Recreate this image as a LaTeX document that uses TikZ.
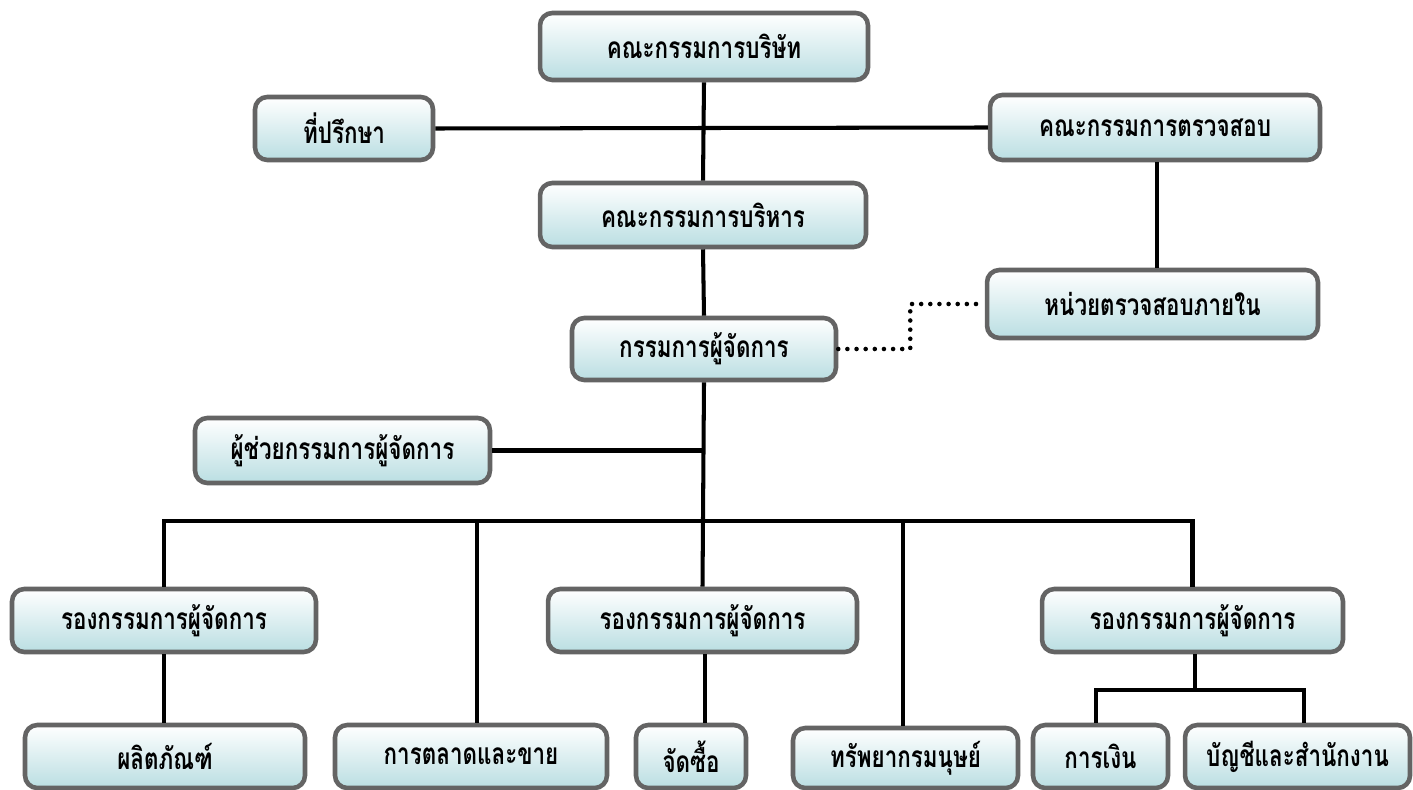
\documentclass[tikz,border=0pt]{standalone}
\usepackage{fontspec}
\newfontfamily\thaifont[Script=Thai,FakeStretch=0.75]{Loma}
\definecolor{boxbot}{RGB}{186,222,226}
\definecolor{boxedge}{RGB}{100,100,100}
\begin{document}
\begin{tikzpicture}[x=0.02cm,y=-0.02cm,
  orgbox/.style={draw=boxedge,line width=2.6pt,rounded corners=7pt,
    top color=white,bottom color=boxbot,shading angle=0,
    inner sep=0pt,font=\thaifont\bfseries\fontsize{17pt}{20pt}\selectfont,text=black},
  conn/.style={line width=2.3pt,black},
  dots/.style={line width=2.6pt,black,line cap=round,dash pattern=on 0pt off 5.2pt}]
\useasboundingbox (0,0) rectangle (1413,790);
% nodes
\node[orgbox,minimum width=6.56cm,minimum height=1.34cm] (b1) at (704,46.5) {คณะกรรมการบริษัท};
\node[orgbox,minimum width=3.56cm,minimum height=1.26cm] (b2) at (344,128.5) {ที่ปรึกษา};
\node[orgbox,minimum width=6.6cm,minimum height=1.3cm] (b3) at (1155,127.5) {คณะกรรมการตรวจสอบ};
\node[orgbox,minimum width=6.52cm,minimum height=1.28cm] (b4) at (703,215) {คณะกรรมการบริหาร};
\node[orgbox,minimum width=6.62cm,minimum height=1.36cm] (b5) at (1152.5,304) {หน่วยตรวจสอบภายใน};
\node[orgbox,minimum width=5.28cm,minimum height=1.24cm] (b6) at (704,349) {กรรมการผู้จัดการ};
\node[orgbox,minimum width=5.9cm,minimum height=1.3cm] (b7) at (342.5,450.5) {ผู้ช่วยกรรมการผู้จัดการ};
\node[orgbox,minimum width=6.08cm,minimum height=1.26cm] (b8) at (164,620.5) {รองกรรมการผู้จัดการ};
\node[orgbox,minimum width=6.18cm,minimum height=1.26cm] (b9) at (702.5,620.5) {รองกรรมการผู้จัดการ};
\node[orgbox,minimum width=6.02cm,minimum height=1.26cm] (b10) at (1192.5,620.5) {รองกรรมการผู้จัดการ};
\node[orgbox,minimum width=5.6cm,minimum height=1.26cm] (b11) at (165,756.5) {ผลิตภัณฑ์};
\node[orgbox,minimum width=5.44cm,minimum height=1.26cm] (b12) at (471,756.5) {การตลาดและขาย};
\node[orgbox,minimum width=2.2cm,minimum height=1.26cm] (b13) at (691,756.5) {จัดซื้อ};
\node[orgbox,minimum width=4.5cm,minimum height=1.2cm] (b14) at (905.5,758) {ทรัพยากรมนุษย์};
\node[orgbox,minimum width=2.7cm,minimum height=1.26cm] (b15) at (1100.5,756.5) {การเงิน};
\node[orgbox,minimum width=4.5cm,minimum height=1.26cm] (b16) at (1297.5,756.5) {บัญชีและสำนักงาน};
% coordinates
\coordinate (bus) at (704,521);
\coordinate (fin) at (1195,690);
% connectors
\draw[conn] (b1.south) -- (b4.north);
\draw[conn] (b2.east) -- (b3.west);
\draw[conn] (b4.south) -- (b6.north);
\draw[conn] (b3.south -| 1157,0) -- (b5.north -| 1157,0);
\draw[dots] (b6.east) -- ++(72,0) |- (b5.west);
\draw[conn] (b6.south) -- (b9.north);
\draw[conn] (b7.east) -- (b7.east -| b6.south);
\draw[conn] (b8.north) |- (bus) -| (b10.north);
\draw[conn] (477,521) -- (477,0 |- b12.north);
\draw[conn] (903,521) -- (903,0 |- b14.north);
\draw[conn] (705,0 |- b9.south) -- (705,0 |- b13.north);
\draw[conn] (b8.south) -- (b11.north -| b8.south);
\draw[conn] (b10.south -| fin) -- (fin);
\draw[conn] (1096,0 |- b15.north) |- (fin) -| (1304,0 |- b16.north);
\end{tikzpicture}
\end{document}
